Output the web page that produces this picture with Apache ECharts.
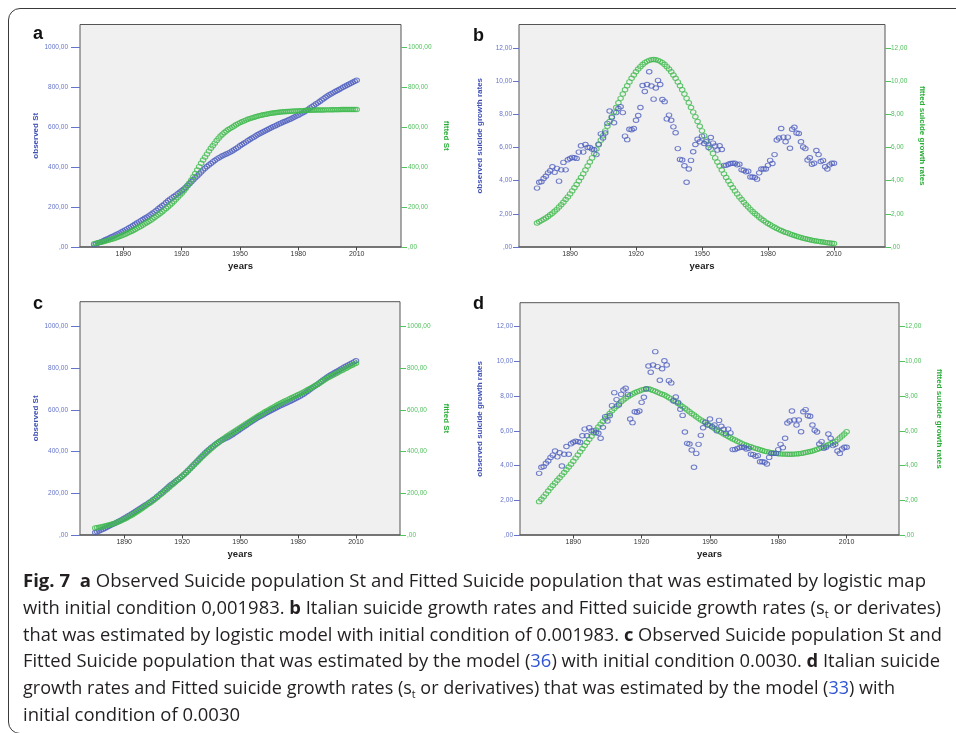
<!DOCTYPE html>
<html>
<head>
<meta charset="utf-8">
<script src="https://cdn.jsdelivr.net/npm/echarts@6/dist/echarts.min.js"></script>
<style>
  html, body { margin: 0; padding: 0; background: #fff; }
  #wrap { position: relative; width: 956px; height: 733px; overflow: hidden; background: #fff; }
  #chart { position: absolute; left: 0; top: 0; width: 956px; height: 733px; }
  #frame { position: absolute; left: 8px; top: 8px; width: 1000px; height: 726px; box-sizing: border-box;
           border: 1.3px solid #3a3a3a; border-radius: 12px; pointer-events: none; }
  #caption { position: absolute; left: 23px; top: 567px; font-family: "Open Sans", "Liberation Sans", sans-serif;
             font-size: 18.5px; line-height: 26.8px; color: #231f20; }
  #caption .ln { white-space: nowrap; width: max-content; transform-origin: 0 50%; }
  #caption b { font-weight: 700; }
  #caption .ref { color: #2f55d4; }
  #caption sub { font-size: 11px; vertical-align: -4px; line-height: 0; }
</style>
</head>
<body>
<div id="wrap">
  <div id="chart"></div>
  <div id="frame"></div>
  <div id="caption">
    <div class="ln" data-w="903"><b>Fig. 7</b>&nbsp; <b>a</b> Observed Suicide population St and Fitted Suicide population that was estimated by logistic map</div>
    <div class="ln" data-w="918">with initial condition 0,001983. <b>b</b> Italian suicide growth rates and Fitted suicide growth rates (s<sub>t</sub> or derivates)</div>
    <div class="ln" data-w="919">that was estimated by logistic model with initial condition of 0.001983. <b>c</b> Observed Suicide population St and</div>
    <div class="ln" data-w="917">Fitted Suicide population that was estimated by the model (<span class="ref">36</span>) with initial condition 0.0030. <b>d</b> Italian suicide</div>
    <div class="ln" data-w="872">growth rates and Fitted suicide growth rates (s<sub>t</sub> or derivatives) that was estimated by the model (<span class="ref">33</span>) with</div>
    <div class="ln" data-w="217">initial condition of 0.0030</div>
  </div>
</div>
<script>
// ---------------- data ----------------
const firstYear = 1875, lastYear = 2010;
const years = [];
for (let y = firstYear; y <= lastYear; y++) years.push(y);

const xTickYears = [1890, 1920, 1950, 1980, 2010];
const stTicks = [0, 200, 400, 600, 800, 1000];
const rateTicks = [0, 2, 4, 6, 8, 10, 12];

// observed suicide growth rates (panels b, d)
const observedRate = [
  3.55, 3.9, 3.94, 4.13, 4.26, 4.47, 4.6, 4.84, 4.5, 4.74,
  3.97, 4.65, 5.1, 4.65, 5.26, 5.34, 5.4, 5.38, 5.34, 5.72,
  6.1, 5.72, 6.18, 6.0, 6.0, 5.9, 5.86, 5.57, 6.2, 6.82,
  6.57, 6.87, 7.45, 8.2, 7.8, 7.49, 8.1, 8.35, 8.45, 8.1,
  6.68, 6.47, 7.1, 7.07, 7.14, 7.64, 7.93, 8.41, 9.73, 9.37,
  9.79, 10.56, 9.7, 8.91, 9.58, 10.04, 9.79, 8.89, 8.76, 7.72,
  7.95, 7.64, 7.24, 6.89, 5.93, 5.28, 5.24, 4.9, 3.9, 4.7,
  5.22, 5.74, 6.18, 6.49, 6.34, 6.68, 6.24, 6.34, 6.0, 6.6,
  6.26, 6.09, 5.84, 6.1, 5.88, 4.92, 4.92, 4.99, 5.03, 5.05,
  5.05, 4.95, 4.99, 4.65, 4.63, 4.53, 4.57, 4.22, 4.22, 4.19,
  4.09, 4.47, 4.7, 4.7, 4.7, 4.92, 5.22, 5.03, 5.57, 6.45,
  6.57, 7.14, 6.62, 6.34, 6.62, 5.95, 7.1, 7.22, 6.87, 6.84,
  6.34, 6.03, 5.93, 5.24, 5.38, 4.99, 5.05, 5.82, 5.57, 5.15,
  5.22, 4.84, 4.7, 4.95, 5.05, 5.05
];

// observed suicide population St (panels a, c)
const observedSt = [
  12.0, 15.9, 19.8, 23.9, 28.2, 32.7, 37.3, 42.1, 46.6, 51.3,
  55.3, 60.0, 65.1, 69.7, 75.0, 80.3, 85.7, 91.1, 96.4, 102.1,
  108.2, 113.9, 120.1, 126.1, 132.1, 138.0, 143.9, 149.5, 155.7, 162.5,
  169.1, 176.0, 183.4, 191.6, 199.4, 206.9, 215.0, 223.4, 231.8, 239.9,
  246.6, 253.1, 260.2, 267.3, 274.4, 282.0, 290.0, 298.4, 308.1, 317.5,
  327.3, 337.8, 347.5, 356.4, 366.0, 376.0, 385.8, 394.7, 403.5, 411.2,
  419.2, 426.8, 434.0, 440.9, 446.9, 452.2, 457.4, 462.3, 466.2, 470.9,
  476.1, 481.8, 488.0, 494.5, 500.9, 507.5, 513.8, 520.1, 526.1, 532.7,
  539.0, 545.1, 550.9, 557.0, 562.9, 567.8, 572.7, 577.7, 582.8, 587.8,
  592.9, 597.8, 602.8, 607.5, 612.1, 616.6, 621.2, 625.4, 629.6, 633.8,
  637.9, 642.4, 647.1, 651.8, 656.5, 661.4, 666.6, 671.6, 677.2, 683.7,
  690.2, 697.4, 704.0, 710.3, 716.9, 722.9, 730.0, 737.2, 744.1, 750.9,
  757.3, 763.3, 769.2, 774.5, 779.8, 784.8, 789.9, 795.7, 801.3, 806.4,
  811.6, 816.5, 821.2, 826.1, 831.2, 836.2
];

// fitted St, logistic map (panel a)
const fittedStA = [
  17, 19, 21, 23, 25, 27, 30, 33, 36, 39,
  42, 45.5, 49, 52.5, 56, 60, 64.5, 69, 73.5, 78,
  83, 88, 93.5, 99, 104.5, 110, 116, 122, 128, 134.5,
  141, 148, 155, 162, 169.5, 177, 185, 193.5, 202, 211,
  220, 229.5, 239, 249, 259, 269, 281, 294, 307.5, 321.5,
  336, 352, 369, 386, 403, 420, 436, 451, 466, 481,
  495, 508, 521, 534, 546, 557, 566, 574, 582, 589,
  595, 601, 607, 613, 619, 624, 628.5, 632.5, 636.5, 640.5,
  644, 647, 650, 653, 656, 659, 661, 663, 665, 667,
  669, 670.5, 672, 673.5, 675, 676, 677, 678, 678.5, 679.5,
  680, 681, 681.5, 682, 682.5, 683, 683.5, 684, 685, 685.5,
  686, 686, 686.5, 686.5, 687, 687, 687, 687.5, 687.5, 688,
  688, 688, 688.5, 688.5, 689, 689, 689, 689.5, 689.5, 689.5,
  690, 690, 690, 690, 690, 690
];

// fitted St, model (36) (panel c)
const fittedStC = [
  34, 35.5, 37, 39, 41, 43, 45.5, 48, 50.5, 53,
  56, 59.5, 63.5, 67.5, 71.5, 76, 81, 86, 91, 96.5,
  102, 108, 114, 120, 126.5, 133, 139.5, 146, 152.5, 159,
  166, 173, 180.5, 188, 195.5, 203, 211, 219, 227, 235,
  243, 251, 259, 267, 275, 283, 291.5, 300, 309, 318,
  327, 336, 345, 354.5, 364, 373, 382, 390.5, 399, 407,
  415, 423, 430.5, 438, 445.5, 453, 459.5, 466, 472.5, 479,
  485, 491, 497, 503, 509, 515, 521, 527, 533, 539,
  545, 551, 557, 563, 569, 575, 580.5, 586, 591.5, 597,
  602, 607, 612.5, 617.5, 623, 628, 632.5, 637, 642, 646.5,
  651, 655.5, 660, 664.5, 669, 673, 677.5, 682, 687, 692,
  697, 702, 707, 712.5, 718, 723, 729, 735, 740.5, 746.5,
  752, 757, 762, 767, 772, 777, 782, 787, 791.5, 796.5,
  801, 806, 811, 815.5, 820.5, 825
];

// fitted growth rates, logistic model (panel b)
const fittedRateB = [
  1.45, 1.52, 1.59, 1.67, 1.75, 1.84, 1.94, 2.04, 2.15, 2.27,
  2.41, 2.55, 2.70, 2.86, 3.02, 3.20, 3.38, 3.57, 3.77, 3.98,
  4.19, 4.41, 4.64, 4.88, 5.12, 5.37, 5.63, 5.90, 6.16, 6.44,
  6.71, 7.00, 7.28, 7.56, 7.85, 8.13, 8.41, 8.69, 8.96, 9.22,
  9.48, 9.72, 9.95, 10.17, 10.37, 10.56, 10.73, 10.87, 11.00, 11.11,
  11.19, 11.25, 11.29, 11.30, 11.29, 11.25, 11.19, 11.11, 11.00, 10.87,
  10.73, 10.56, 10.37, 10.17, 9.95, 9.72, 9.48, 9.22, 8.96, 8.69,
  8.41, 8.13, 7.85, 7.56, 7.28, 7.00, 6.71, 6.44, 6.16, 5.90,
  5.63, 5.37, 5.12, 4.88, 4.64, 4.41, 4.19, 3.98, 3.77, 3.57,
  3.38, 3.20, 3.02, 2.86, 2.70, 2.55, 2.41, 2.27, 2.14, 2.02,
  1.91, 1.80, 1.69, 1.60, 1.50, 1.42, 1.34, 1.26, 1.19, 1.12,
  1.05, 0.99, 0.93, 0.88, 0.84, 0.79, 0.74, 0.69, 0.65, 0.61,
  0.57, 0.53, 0.50, 0.47, 0.44, 0.41, 0.38, 0.36, 0.34, 0.32,
  0.30, 0.28, 0.26, 0.24, 0.23, 0.21
];

// fitted growth rates, model (33) (panel d)
const fittedRateD = [
  1.92, 2.06, 2.21, 2.37, 2.53, 2.70, 2.85, 3.00, 3.15, 3.30,
  3.45, 3.60, 3.76, 3.92, 4.08, 4.25, 4.43, 4.61, 4.79, 4.97,
  5.15, 5.33, 5.51, 5.69, 5.87, 6.05, 6.22, 6.38, 6.54, 6.70,
  6.85, 7.00, 7.15, 7.29, 7.42, 7.55, 7.67, 7.78, 7.88, 7.97,
  8.05, 8.12, 8.19, 8.25, 8.30, 8.35, 8.39, 8.42, 8.42, 8.38,
  8.33, 8.28, 8.22, 8.16, 8.11, 8.06, 7.99, 7.91, 7.84, 7.76,
  7.68, 7.58, 7.49, 7.39, 7.30, 7.20, 7.10, 7.00, 6.91, 6.81,
  6.72, 6.63, 6.55, 6.46, 6.38, 6.30, 6.22, 6.14, 6.06, 5.98,
  5.90, 5.82, 5.75, 5.67, 5.60, 5.53, 5.47, 5.40, 5.34, 5.28,
  5.22, 5.17, 5.12, 5.08, 5.03, 4.99, 4.95, 4.91, 4.87, 4.83,
  4.80, 4.77, 4.74, 4.72, 4.70, 4.68, 4.67, 4.66, 4.66, 4.65,
  4.65, 4.65, 4.66, 4.67, 4.68, 4.70, 4.72, 4.75, 4.78, 4.81,
  4.84, 4.88, 4.93, 4.98, 5.03, 5.09, 5.14, 5.20, 5.26, 5.32,
  5.38, 5.48, 5.59, 5.70, 5.82, 5.95
];

// ---------------- chart ----------------
const BLUE = '#4f5fbf', BLUE_LBL = '#6474c8', BLUE_NAME = '#3d4fb3';
const GREEN = '#3fba4c', GREEN_LBL = '#52c25e', GREEN_NAME = '#2aae38';
const FONT = '"Liberation Sans", Arial, sans-serif';

function fmt(v) { return v === 0 ? ',00' : v.toFixed(2).replace('.', ','); }

const panels = [
  { letter: 'a', lx: 33, ly: 39.5, grid: { left: 80, top: 24.5, width: 321, height: 222.5 },
    xMin: 1867.7, xMax: 2032.8, yMax: 1116, ticks: stTicks,
    lTick: 9, lMargin: 12, rTick: 6, rMargin: 7,
    leftName: 'observed St', rightName: 'fitted St', lGap: 40, rGap: 41,
    series: [[observedSt, 'obs'], [fittedStA, 'fit']] },
  { letter: 'b', lx: 473, ly: 41.5, grid: { left: 519, top: 24.5, width: 366, height: 222.5 },
    xMin: 1866.8, xMax: 2033.2, yMax: 13.41, ticks: rateTicks,
    lTick: 6, lMargin: 7, rTick: 6, rMargin: 6,
    leftName: 'observed suicide growth rates', rightName: 'fitted suicide growth rates', lGap: 35, rGap: 33,
    series: [[fittedRateB, 'fit'], [observedRate, 'obs']] },
  { letter: 'c', lx: 33, ly: 309, grid: { left: 80, top: 301.7, width: 320, height: 233.3 },
    xMin: 1867.1, xMax: 2032.8, yMax: 1120, ticks: stTicks,
    lTick: 9, lMargin: 12, rTick: 6, rMargin: 7,
    leftName: 'observed St', rightName: 'fitted St', lGap: 40, rGap: 42,
    series: [[observedSt, 'obs'], [fittedStC, 'fit']] },
  { letter: 'd', lx: 473, ly: 309, grid: { left: 520, top: 302.7, width: 379, height: 232.3 },
    xMin: 1866.6, xMax: 2033.0, yMax: 13.38, ticks: rateTicks,
    lTick: 6, lMargin: 7, rTick: 6, rMargin: 6,
    leftName: 'observed suicide growth rates', rightName: 'fitted suicide growth rates', lGap: 36, rGap: 36,
    series: [[fittedRateD, 'fit'], [observedRate, 'obs']] }
];

const grids = [], xAxes = [], yAxes = [], series = [], graphics = [];

panels.forEach((p, i) => {
  grids.push(Object.assign({ show: true, backgroundColor: '#f0f0f0', borderColor: '#555', borderWidth: 1 }, p.grid));
  xAxes.push({
    type: 'value', gridIndex: i, min: p.xMin, max: p.xMax,
    name: 'years', nameLocation: 'middle', nameGap: 14,
    nameTextStyle: { fontFamily: FONT, fontSize: 9.5, fontWeight: 'bold', color: '#222' },
    axisLine: { show: true, lineStyle: { color: '#666', width: 1.5 } },
    axisTick: { show: true, length: 3.5, lineStyle: { color: '#444' }, customValues: xTickYears },
    axisLabel: { customValues: xTickYears, fontFamily: FONT, fontSize: 7, color: '#333', margin: 4,
                 formatter: v => String(Math.round(v)) },
    splitLine: { show: false }
  });
  const mkY = (pos, col, lblCol, name, gap, tickLen, margin) => ({
    type: 'value', gridIndex: i, position: pos, min: 0, max: p.yMax,
    name: name, nameLocation: 'middle', nameGap: gap, nameRotate: pos === 'left' ? 90 : -90,
    nameTextStyle: { fontFamily: FONT, fontSize: 8, fontWeight: 'bold', color: col },
    axisLine: { show: false },
    axisTick: { show: true, length: tickLen, lineStyle: { color: lblCol }, customValues: p.ticks },
    axisLabel: { customValues: p.ticks, fontFamily: FONT, fontSize: 6.5, color: lblCol, margin: margin,
                 formatter: v => fmt(v) },
    splitLine: { show: false }
  });
  yAxes.push(mkY('left', BLUE_NAME, BLUE_LBL, p.leftName, p.lGap, p.lTick, p.lMargin));
  yAxes.push(mkY('right', GREEN_NAME, GREEN_LBL, p.rightName, p.rGap, p.rTick, p.rMargin));
  p.series.forEach(([arr, kind]) => {
    series.push({
      type: 'scatter', xAxisIndex: i, yAxisIndex: kind === 'obs' ? 2 * i : 2 * i + 1,
      data: years.map((y, k) => [y, arr[k]]),
      symbol: 'circle', symbolSize: [5.5, 4.5], silent: true,
      itemStyle: { color: 'rgba(0,0,0,0)', borderColor: kind === 'obs' ? BLUE : GREEN, borderWidth: 1 }
    });
  });
  graphics.push({ type: 'text', left: p.lx, top: p.ly - 14,
    style: { text: p.letter, fontFamily: FONT, fontSize: 18, fontWeight: 'bold', fill: '#111' } });
});

const chart = echarts.init(document.getElementById('chart'), null, { renderer: 'canvas' });
chart.setOption({
  animation: false,
  grid: grids, xAxis: xAxes, yAxis: yAxes, series: series, graphic: graphics
});

// fit caption lines to their widths in the reference
document.querySelectorAll('#caption .ln').forEach(el => {
  const w = el.getBoundingClientRect().width;
  const target = parseFloat(el.dataset.w);
  el.style.transform = 'scaleX(' + (target / w).toFixed(4) + ')';
});
</script>
</body>
</html>
